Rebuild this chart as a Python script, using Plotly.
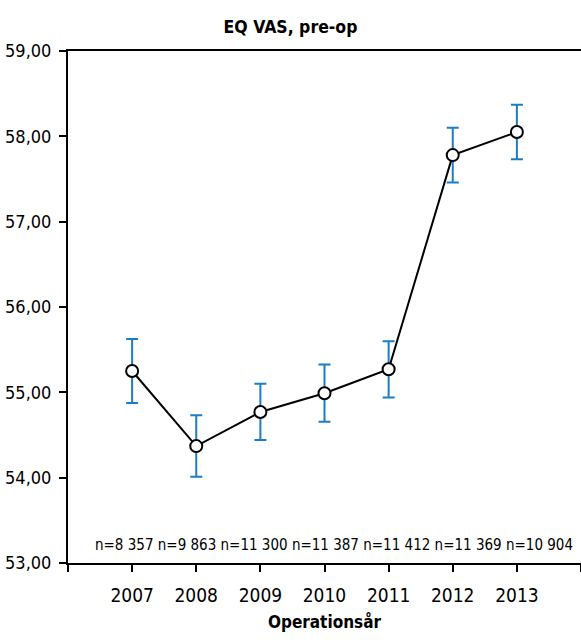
import plotly.graph_objects as go

years = [2007, 2008, 2009, 2010, 2011, 2012, 2013]
means = [55.25, 54.37, 54.77, 54.99, 55.27, 57.78, 58.05]
ci_half = [0.375, 0.36, 0.33, 0.335, 0.33, 0.32, 0.32]
n_labels = ["n=8 357", "n=9 863", "n=11 300", "n=11 387", "n=11 412", "n=11 369", "n=10 904"]
y_ticks = [53, 54, 55, 56, 57, 58, 59]
y_ticktext = ["53,00", "54,00", "55,00", "56,00", "57,00", "58,00", "59,00"]

FONT = "DejaVu Sans Condensed"

fig = go.Figure()
fig.add_trace(go.Scatter(
    x=years, y=means, mode="lines+markers",
    line=dict(color="black", width=2),
    marker=dict(size=12, color="white", line=dict(color="black", width=2)),
    error_y=dict(type="data", array=ci_half, visible=True, color="#1c7dc2", thickness=2, width=6),
    showlegend=False,
))

# n-labels as one running line of text along the bottom of the plot
fig.add_annotation(x=2010.155, y=53, text=" ".join(n_labels), showarrow=False,
                   xanchor="center", yanchor="bottom", yshift=7,
                   font=dict(family=FONT, size=15, color="black"))

xticks = [2006] + years + [2014]
xtext = [""] + [str(y) for y in years] + [""]

fig.update_layout(
    width=581, height=642,
    margin=dict(l=68, r=0, t=51, b=79),
    paper_bgcolor="white", plot_bgcolor="white",
    font=dict(family=FONT, color="black"),
    title=dict(text="<b>EQ VAS, pre-op</b>", x=0.5, xanchor="center", y=0.968, yanchor="top",
               font=dict(family=FONT, size=17.5, color="black")),
    xaxis=dict(range=[2006, 2014], tickvals=xticks, ticktext=xtext,
               showgrid=False, zeroline=False, showline=True, linecolor="black", linewidth=2,
               mirror=True, ticks="outside", ticklen=7, tickwidth=1.5, tickcolor="black",
               ticklabelstandoff=7,
               tickfont=dict(family=FONT, size=19, color="black"),
               title=dict(text="<b>Operationsår</b>", font=dict(family=FONT, size=17, color="black"), standoff=11)),
    yaxis=dict(range=[53, 59], tickvals=y_ticks, ticktext=y_ticktext,
               showgrid=False, zeroline=False, showline=True, linecolor="black", linewidth=2,
               ticks="outside", ticklen=7, tickwidth=1.5, tickcolor="black",
               ticklabelstandoff=4,
               tickfont=dict(family=FONT, size=18, color="black")),
)

fig.write_html("out.html", config={"displayModeBar": False},
               post_script="document.body.style.margin='0';")
